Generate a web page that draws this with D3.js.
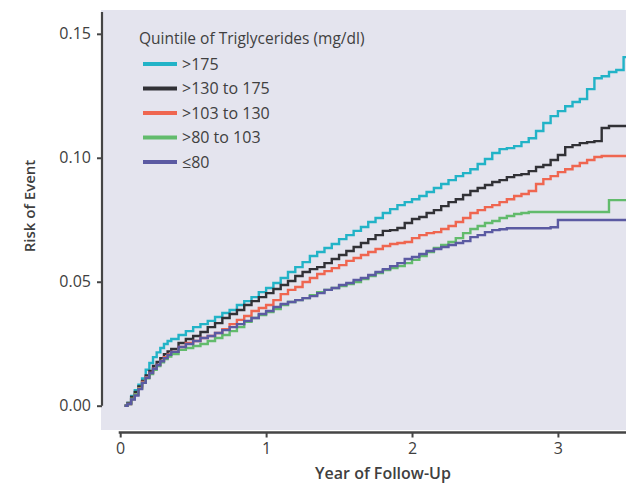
<!DOCTYPE html>
<html>
<head>
<meta charset="utf-8">
<script src="https://cdn.jsdelivr.net/npm/d3@7"></script>
<style>
  html, body { margin: 0; padding: 0; background: #fff; }
  svg { display: block; }
  text { font-family: "Open Sans", "Noto Sans", sans-serif; fill: #404040; }
</style>
</head>
<body>
<svg id="chart" width="626" height="484"></svg>
<script>
// Follow-up times (years) at which the cumulative risk is recorded
const years = [0.03,
  0.05,0.075,0.10,0.125,0.15,0.175,0.20,0.225,0.25,0.275,0.30,0.325,0.35,
  0.40,0.45,0.50,
  0.55,0.60,0.65,0.70,0.75,0.80,0.85,0.90,0.95,1.00,
  1.05,1.10,1.15,1.20,1.25,1.30,1.35,1.40,1.45,1.50,
  1.55,1.60,1.65,1.70,1.75,1.80,1.85,1.90,1.95,2.00,
  2.05,2.10,2.15,2.20,2.25,2.30,2.35,2.40,2.45,2.50,
  2.55,2.60,2.65,2.70,2.75,2.80,2.85,2.90,2.95,3.00,
  3.05,3.10,3.15,3.20,3.25,3.30,3.35,3.40,3.45,3.50];

// Cumulative risk of event per triglyceride quintile
const riskOver175 = [0,
  0.0011,0.0039,0.0063,0.0085,0.0110,0.0145,0.0172,0.0196,0.0215,0.0233,0.0249,0.0261,0.0269,
  0.0285,0.0301,0.0317,
  0.0329,0.0342,0.0358,0.0374,0.0386,0.0406,0.0422,0.0438,0.0458,0.0475,
  0.0495,0.0515,0.0539,0.0559,0.0579,0.0604,0.0620,0.0636,0.0652,0.0672,
  0.0688,0.0705,0.0721,0.0741,0.0757,0.0777,0.0793,0.0809,0.0821,0.0833,
  0.0846,0.0862,0.0878,0.0894,0.0910,0.0926,0.0938,0.0954,0.0975,0.0995,
  0.1019,0.1035,0.1039,0.1047,0.1063,0.1079,0.1108,0.1140,0.1168,0.1188,
  0.1208,0.1225,0.1237,0.1277,0.1321,0.1329,0.1346,0.1354,0.1406,0.1406];

const risk130to175 = [0,
  0.0011,0.0035,0.0055,0.0078,0.0100,0.0122,0.0140,0.0160,0.0176,0.0192,0.0208,0.0219,0.0229,
  0.0253,0.0269,0.0281,
  0.0297,0.0317,0.0333,0.0354,0.0370,0.0386,0.0406,0.0422,0.0438,0.0454,
  0.0471,0.0487,0.0503,0.0523,0.0539,0.0551,0.0559,0.0575,0.0592,0.0608,
  0.0624,0.0640,0.0656,0.0672,0.0688,0.0705,0.0708,0.0717,0.0737,0.0753,
  0.0761,0.0777,0.0789,0.0805,0.0821,0.0833,0.0850,0.0866,0.0878,0.0890,
  0.0902,0.0910,0.0922,0.0930,0.0934,0.0946,0.0963,0.0971,0.0991,0.1011,
  0.1043,0.1051,0.1059,0.1063,0.1067,0.1120,0.1128,0.1128,0.1128,0.1128];

const risk103to130 = [0,
  0.0007,0.0027,0.0045,0.0071,0.0096,0.0115,0.0132,0.0149,0.0164,0.0181,0.0196,0.0207,0.0217,
  0.0237,0.0253,0.0261,
  0.0273,0.0281,0.0293,0.0309,0.0329,0.0346,0.0362,0.0382,0.0394,0.0406,
  0.0426,0.0450,0.0467,0.0479,0.0499,0.0515,0.0531,0.0543,0.0555,0.0567,
  0.0584,0.0596,0.0608,0.0620,0.0632,0.0644,0.0652,0.0656,0.0660,0.0676,
  0.0688,0.0696,0.0700,0.0713,0.0725,0.0741,0.0757,0.0777,0.0789,0.0801,
  0.0809,0.0821,0.0833,0.0846,0.0854,0.0866,0.0894,0.0914,0.0926,0.0942,
  0.0954,0.0967,0.0979,0.0991,0.1003,0.1007,0.1007,0.1007,0.1007,0.1007];

const risk80to103 = [0,
  0.0007,0.0027,0.0045,0.0069,0.0092,0.0111,0.0128,0.0145,0.0160,0.0175,0.0188,0.0198,0.0208,
  0.0225,0.0233,0.0241,
  0.0249,0.0261,0.0273,0.0285,0.0301,0.0317,0.0338,0.0354,0.0366,0.0378,
  0.0390,0.0406,0.0418,0.0426,0.0434,0.0446,0.0458,0.0467,0.0475,0.0483,
  0.0491,0.0499,0.0511,0.0523,0.0535,0.0547,0.0555,0.0563,0.0575,0.0588,
  0.0604,0.0620,0.0636,0.0648,0.0660,0.0676,0.0696,0.0713,0.0725,0.0737,
  0.0745,0.0757,0.0765,0.0773,0.0777,0.0781,0.0781,0.0781,0.0781,0.0781,
  0.0781,0.0781,0.0781,0.0781,0.0781,0.0781,0.0829,0.0829,0.0829,0.0829];

const riskUpTo80 = [0,
  0.0007,0.0025,0.0041,0.0067,0.0092,0.0113,0.0132,0.0149,0.0164,0.0179,0.0192,0.0205,0.0217,
  0.0237,0.0249,0.0261,
  0.0273,0.0281,0.0293,0.0305,0.0317,0.0329,0.0342,0.0354,0.0370,0.0382,
  0.0398,0.0410,0.0418,0.0426,0.0434,0.0442,0.0454,0.0467,0.0475,0.0487,
  0.0495,0.0507,0.0515,0.0527,0.0539,0.0551,0.0563,0.0575,0.0592,0.0600,
  0.0612,0.0624,0.0632,0.0640,0.0648,0.0656,0.0664,0.0680,0.0688,0.0700,
  0.0708,0.0712,0.0716,0.0716,0.0716,0.0716,0.0716,0.0716,0.0720,0.0749,
  0.0749,0.0749,0.0749,0.0749,0.0749,0.0749,0.0749,0.0749,0.0749,0.0749];

const groupLabels = [">175", ">130 to 175", ">103 to 130", ">80 to 103", "\u226480"];
const groupRisks = [riskOver175, risk130to175, risk103to130, risk80to103, riskUpTo80];
const groupColors = ["#22b3c7", "#313136", "#ef6650", "#62bb6c", "#5b5aa2"];

const yTicks = [0, 0.05, 0.10, 0.15];
const xTicks = [0, 1, 2, 3];

const svg = d3.select("#chart");

// Plot panel
const panel = { x0: 101, y0: 10, x1: 626, y1: 430 };
const x = d3.scaleLinear().domain([0, 3.47]).range([120.2, 626.5]);
const y = d3.scaleLinear().domain([0, 0.1588]).range([405.7, 12]);

svg.append("rect")
  .attr("x", panel.x0).attr("y", panel.y0)
  .attr("width", panel.x1 - panel.x0).attr("height", panel.y1 - panel.y0)
  .attr("fill", "#e4e4ee");

svg.append("clipPath").attr("id", "plot-clip")
  .append("rect")
  .attr("x", panel.x0).attr("y", panel.y0)
  .attr("width", panel.x1 - panel.x0).attr("height", panel.y1 - panel.y0);

// Kaplan-Meier style step curves
const line = d3.line()
  .x((d, i) => x(years[i]))
  .y(d => y(d))
  .curve(d3.curveStepAfter);

svg.append("g").attr("clip-path", "url(#plot-clip)")
  .selectAll("path")
  .data(groupRisks)
  .join("path")
  .attr("d", d => line(d))
  .attr("fill", "none")
  .attr("stroke", (d, i) => groupColors[i])
  .attr("stroke-width", 2.4)
  .attr("stroke-linejoin", "miter");

// Axes
const yAxis = d3.axisLeft(y)
  .tickValues(yTicks)
  .tickFormat(d3.format(".2f"))
  .tickSizeInner(5).tickSizeOuter(0).tickPadding(6);

const gy = svg.append("g").attr("transform", "translate(102,0)").call(yAxis);
gy.select(".domain").attr("stroke", "#454545").attr("stroke-width", 2.2)
  .attr("d", `M0,${y(0)}V${y(0.1588)}`);
gy.selectAll(".tick line").attr("stroke", "#454545").attr("stroke-width", 2);
gy.selectAll(".tick text").attr("font-size", 16).attr("fill", "#454545")
  .attr("font-family", "'Open Sans', sans-serif");

const xAxis = d3.axisBottom(x)
  .tickValues(xTicks)
  .tickFormat(d3.format("d"))
  .tickSizeInner(5).tickSizeOuter(0).tickPadding(5);

const gx = svg.append("g").attr("transform", "translate(0,432.5)").call(xAxis);
gx.select(".domain").attr("stroke", "#454545").attr("stroke-width", 2.4)
  .attr("d", `M${x(0) - 1.5},0H626`);
gx.selectAll(".tick line").attr("stroke", "#454545").attr("stroke-width", 2);
gx.selectAll(".tick text").attr("font-size", 16).attr("fill", "#454545")
  .attr("font-family", "'Open Sans', sans-serif");

// Axis titles
svg.append("text")
  .attr("x", 383).attr("y", 479)
  .attr("text-anchor", "middle")
  .attr("font-size", 16).attr("font-weight", 600)
  .text("Year of Follow-Up");

svg.append("text")
  .attr("transform", "translate(35,206) rotate(-90)")
  .attr("text-anchor", "middle")
  .attr("font-size", 15).attr("font-weight", 600)
  .text("Risk of Event");

// Legend
const legend = svg.append("g");
legend.append("text")
  .attr("x", 139).attr("y", 44)
  .attr("font-size", 15.5)
  .text("Quintile of Triglycerides (mg/dl)");

const rowY = [64, 88.5, 113, 137.5, 162];
const rows = legend.selectAll("g.row")
  .data(groupLabels)
  .join("g").attr("class", "row")
  .attr("transform", (d, i) => `translate(0,${rowY[i]})`);

rows.append("line")
  .attr("x1", 143).attr("x2", 177)
  .attr("y1", 0).attr("y2", 0)
  .attr("stroke", (d, i) => groupColors[i])
  .attr("stroke-width", 4);

rows.append("text")
  .attr("x", 182).attr("y", 0)
  .attr("dy", "0.35em")
  .attr("font-size", 16)
  .text(d => d);
</script>
</body>
</html>
